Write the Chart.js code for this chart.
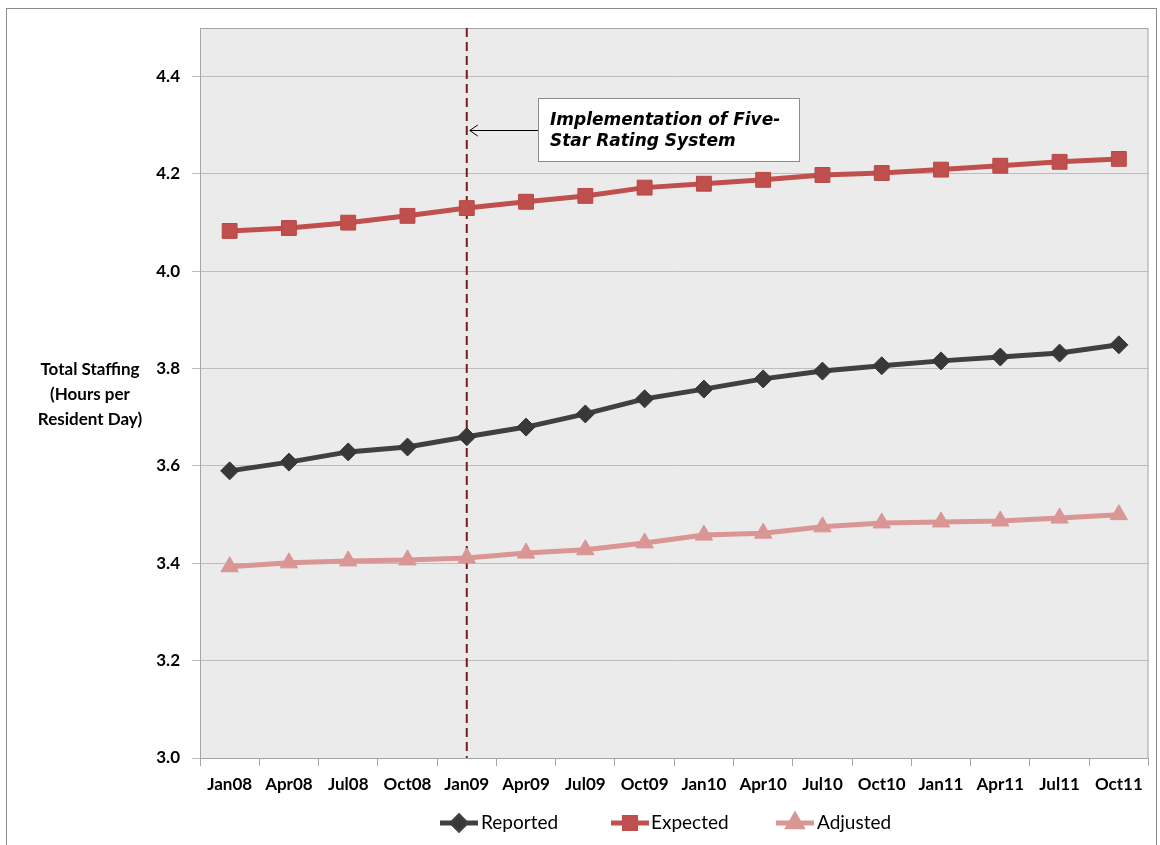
<!DOCTYPE html>
<html lang="en">
<head>
    <meta charset="UTF-8">
    <title>Total Staffing</title>
    <script src="https://cdn.jsdelivr.net/npm/chart.js"></script>
    <style>
        body {
            margin: 0;
            background: #ffffff;
        }
        #wrap {
            width: 1160px;
            height: 845px;
        }
    </style>
</head>
<body>
<div id="wrap"><canvas id="staffing" width="1160" height="845"></canvas></div>
<script>
    // quarters and values
    var quarters = ['Jan08', 'Apr08', 'Jul08', 'Oct08', 'Jan09', 'Apr09', 'Jul09', 'Oct09',
                    'Jan10', 'Apr10', 'Jul10', 'Oct10', 'Jan11', 'Apr11', 'Jul11', 'Oct11'];
    var reported = [3.590, 3.608, 3.629, 3.639, 3.660, 3.680, 3.707, 3.738,
                     3.758, 3.779, 3.795, 3.806, 3.816, 3.824, 3.832, 3.849];
    var expected = [4.083, 4.089, 4.100, 4.114, 4.130, 4.143, 4.155, 4.172,
                    4.180, 4.188, 4.198, 4.202, 4.209, 4.217, 4.225, 4.231];
    var adjusted = [3.393, 3.401, 3.405, 3.407, 3.411, 3.421, 3.428, 3.442,
                    3.458, 3.462, 3.475, 3.483, 3.485, 3.487, 3.493, 3.500];
    var yTicks = [3.0, 3.2, 3.4, 3.6, 3.8, 4.0, 4.2, 4.4];
    var markerQuarter = 'Jan09';
    var noteLines = ['Implementation of Five-', 'Star Rating System'];
    var yTitle = ['Total Staffing', '(Hours per', 'Resident Day)'];

    var boldFont = 'bold 17px Lato, "Open Sans", sans-serif';

    // backgrounds: outer frame and grey plot area
    var backdrop = {
        id: 'backdrop',
        beforeDraw: function (chart) {
            var ctx = chart.ctx, a = chart.chartArea;
            ctx.save();
            ctx.fillStyle = '#ffffff';
            ctx.fillRect(0, 0, chart.width, chart.height);
            ctx.strokeStyle = '#8c8c8c';
            ctx.lineWidth = 1;
            ctx.strokeRect(6.5, 8.5, 1150, 860);
            ctx.fillStyle = '#ebebeb';
            ctx.fillRect(a.left, a.top, a.right - a.left, a.bottom - a.top);
            ctx.strokeStyle = '#a6a6a6';
            ctx.strokeRect(a.left + 0.5, a.top + 0.5, a.right - a.left - 1, a.bottom - a.top);
            ctx.restore();
        },
        beforeDatasetsDraw: function (chart) {
            // dashed line at the start of the rating system
            var ctx = chart.ctx, a = chart.chartArea;
            var x = chart.scales.x.getPixelForValue(quarters.indexOf(markerQuarter));
            ctx.save();
            ctx.strokeStyle = '#7a1c1c';
            ctx.lineWidth = 2;
            ctx.setLineDash([9, 5]);
            ctx.beginPath();
            ctx.moveTo(x, a.top);
            ctx.lineTo(x, a.bottom);
            ctx.stroke();
            ctx.restore();
        },
        afterDraw: function (chart) {
            var ctx = chart.ctx;
            var x = chart.scales.x.getPixelForValue(quarters.indexOf(markerQuarter));
            ctx.save();

            // annotation box + arrow
            ctx.fillStyle = '#ffffff';
            ctx.fillRect(538, 98, 261, 63);
            ctx.strokeStyle = '#8c8c8c';
            ctx.lineWidth = 1;
            ctx.strokeRect(538.5, 98.5, 261, 63);
            ctx.strokeStyle = '#000000';
            ctx.beginPath();
            ctx.moveTo(538, 130.5);
            ctx.lineTo(x + 3, 130.5);
            ctx.moveTo(x + 11, 125);
            ctx.lineTo(x + 3, 130.5);
            ctx.lineTo(x + 11, 136);
            ctx.stroke();
            ctx.fillStyle = '#000000';
            ctx.font = 'italic bold 17px "DejaVu Sans", Verdana, sans-serif';
            ctx.textAlign = 'left';
            ctx.textBaseline = 'middle';
            ctx.fillText(noteLines[0], 550, 121);
            ctx.fillText(noteLines[1], 550, 142);

            // y axis title
            ctx.font = boldFont;
            ctx.textAlign = 'center';
            yTitle.forEach(function (t, i) {
                ctx.fillText(t, 90, 370 + i * 25);
            });

            // legend: line with marker like the spreadsheet one
            var items = [
                { ds: 0, cx: 459, tx: 481 },
                { ds: 1, cx: 630, tx: 651 },
                { ds: 2, cx: 795, tx: 817 }
            ];
            var y = 823;
            items.forEach(function (it) {
                var d = chart.data.datasets[it.ds];
                ctx.strokeStyle = d.borderColor;
                ctx.lineWidth = d.borderWidth;
                ctx.beginPath();
                ctx.moveTo(it.cx - 19, y);
                ctx.lineTo(it.cx + 19, y);
                ctx.stroke();
                Chart.helpers.drawPoint(ctx, {
                    pointStyle: d.pointStyle,
                    radius: d.pointRadius * 0.75,
                    borderWidth: 1
                }, it.cx, y);
                ctx.fillStyle = d.pointBackgroundColor;
                ctx.fill();
                ctx.fillStyle = '#000000';
                ctx.font = '19px Lato, "Open Sans", sans-serif';
                ctx.textAlign = 'left';
                ctx.fillText(d.label, it.tx, y);
            });
            ctx.restore();
        }
    };

    new Chart(document.getElementById('staffing'), {
        type: 'line',
        data: {
            labels: quarters,
            datasets: [
                {
                    label: 'Reported',
                    data: reported,
                    borderColor: '#404040',
                    borderWidth: 5,
                    pointStyle: 'rectRot',
                    pointRadius: 9,
                    pointBackgroundColor: '#383838',
                    pointBorderColor: '#383838',
                    pointBorderWidth: 1
                },
                {
                    label: 'Expected',
                    data: expected,
                    borderColor: '#c0504d',
                    borderWidth: 5,
                    pointStyle: 'rect',
                    pointRadius: 10.5,
                    pointBackgroundColor: '#c0504d',
                    pointBorderColor: '#b84744',
                    pointBorderWidth: 1
                },
                {
                    label: 'Adjusted',
                    data: adjusted,
                    borderColor: '#d99694',
                    borderWidth: 5,
                    pointStyle: 'triangle',
                    pointRadius: 10,
                    pointBackgroundColor: '#d99694',
                    pointBorderColor: '#d99694',
                    pointBorderWidth: 1
                }
            ]
        },
        options: {
            responsive: false,
            animation: false,
            layout: { padding: { top: 28, right: 7, left: 0, bottom: 0 } },
            plugins: {
                legend: { display: false },
                tooltip: { enabled: false }
            },
            scales: {
                x: {
                    offset: true,
                    afterFit: function (scale) { scale.height = 87; },
                    grid: {
                        offset: true,
                        drawOnChartArea: false,
                        tickLength: 8,
                        color: '#a6a6a6'
                    },
                    border: { color: '#a6a6a6' },
                    ticks: {
                        autoSkip: false,
                        maxRotation: 0,
                        padding: 8,
                        color: '#000000',
                        font: { family: 'Lato, "Open Sans", sans-serif', size: 17, weight: 'bold' }
                    }
                },
                y: {
                    min: 3.0,
                    max: 4.5,
                    afterFit: function (scale) { scale.width = 200; },
                    afterBuildTicks: function (scale) {
                        scale.ticks = yTicks.map(function (v) { return { value: v }; });
                    },
                    grid: {
                        tickLength: 8,
                        color: '#bdbdbd'
                    },
                    border: { color: '#a6a6a6' },
                    ticks: {
                        padding: 12,
                        color: '#000000',
                        font: { family: 'Lato, "Open Sans", sans-serif', size: 17, weight: 'bold' },
                        callback: function (v) { return Number(v).toFixed(1); }
                    }
                }
            }
        },
        plugins: [backdrop]
    });
</script>
</body>
</html>
